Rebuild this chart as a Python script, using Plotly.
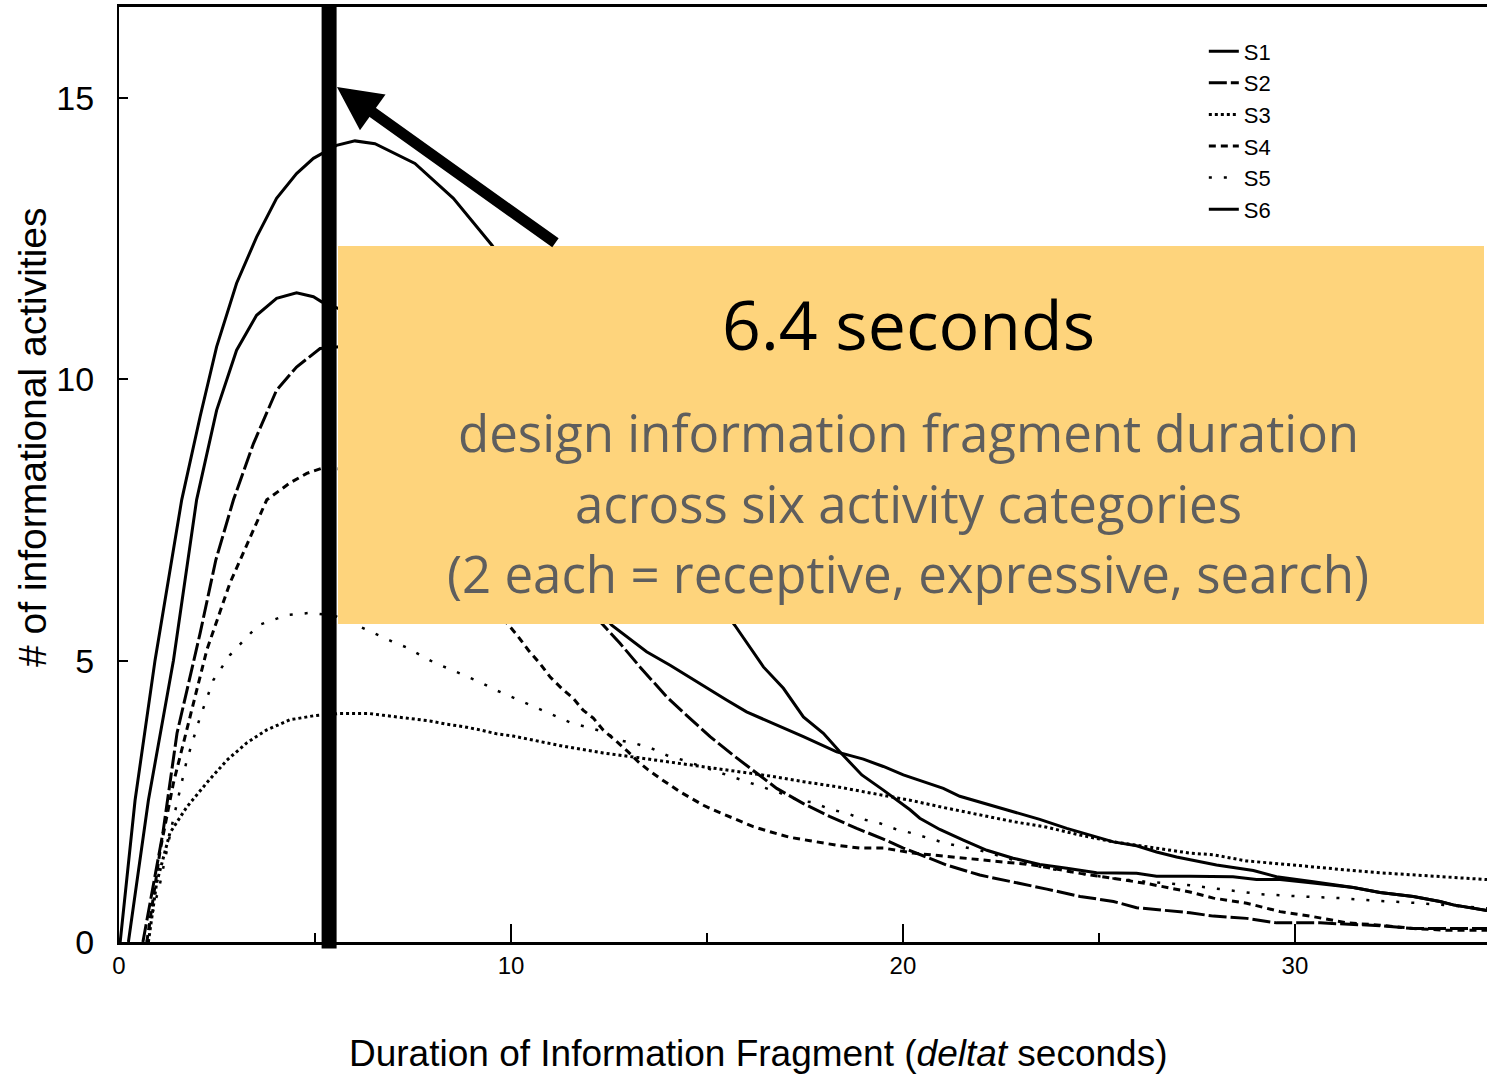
import plotly.graph_objects as go

# ---- data ----
series_names = ["S1", "S2", "S3", "S4", "S5", "S6"]

x_s1 = [0.03, 0.41, 0.92, 1.60, 2.07, 2.49, 3.00, 3.51, 4.02, 4.53, 4.96, 5.55, 6.02, 6.53, 7.55, 8.53, 9.51,
        10.5, 11.5, 12.5, 13.5, 14.5, 15.71, 16.44, 16.95, 17.46, 17.97, 18.39, 18.95, 19.50, 20.18, 20.43,
        20.94, 21.54, 22.14, 22.81, 23.49, 24.18, 24.94, 25.96, 26.47, 27.32, 28.42, 29.02, 29.62, 30.46,
        31.49, 32.17, 33.02, 33.70, 34.04, 34.90]
y_s1 = [0, 2.52, 5.01, 7.86, 9.34, 10.58, 11.71, 12.53, 13.22, 13.66, 13.93, 14.16, 14.24, 14.19, 13.84, 13.22,
        12.39, 11.4, 10.3, 9.1, 7.9, 6.8, 5.63, 4.89, 4.51, 4.00, 3.71, 3.38, 2.97, 2.70, 2.35, 2.20, 2.00,
        1.81, 1.63, 1.49, 1.38, 1.31, 1.23, 1.22, 1.17, 1.17, 1.16, 1.11, 1.11, 1.05, 0.97, 0.88, 0.81, 0.72,
        0.66, 0.56]

x_s2 = [0.61, 1.12, 1.48, 2.07, 2.47, 2.92, 3.43, 4.02, 4.53, 5.13, 6, 7, 8, 9, 10, 11, 12, 12.35, 12.78,
        13.29, 13.97, 14.48, 15.08, 15.67, 16.27, 16.78, 17.46, 18.14, 18.82, 19.50, 20.01, 20.43, 21.11,
        21.96, 22.81, 23.67, 24.52, 25.37, 25.96, 27.32, 27.92, 28.77, 29.53, 30.64, 32.17, 33.02, 34.90]
y_s2 = [0, 1.94, 3.71, 5.49, 6.79, 7.86, 8.86, 9.81, 10.22, 10.55, 10.6, 10.3, 9.7, 8.9, 8.0, 6.85, 5.9, 5.63,
        5.31, 4.89, 4.36, 4.03, 3.65, 3.32, 3.00, 2.73, 2.46, 2.23, 2.02, 1.83, 1.67, 1.55, 1.37, 1.19, 1.07,
        0.94, 0.81, 0.72, 0.61, 0.52, 0.46, 0.42, 0.34, 0.34, 0.29, 0.24, 0.24]

x_s3 = [0.75, 0.96, 1.30, 1.73, 2.24, 2.75, 3.26, 3.77, 4.36, 4.96, 5.59, 6.40, 6.74, 7.08, 7.51, 7.93, 8.36,
        8.78, 9.21, 9.64, 10.06, 10.48, 10.91, 11.33, 12.02, 12.35, 13.21, 14.06, 14.91, 15.76, 16.61, 17.46,
        18.31, 19.16, 20.18, 21.11, 21.96, 22.81, 23.67, 24.52, 25.37, 26.22, 27.32, 27.92, 28.77, 29.62,
        30.47, 31.32, 32.17, 33.02, 33.87, 34.90]
y_s3 = [0, 1.05, 1.94, 2.40, 2.83, 3.23, 3.54, 3.77, 3.95, 4.02, 4.06, 4.06, 4.03, 4.00, 3.96, 3.93, 3.87,
        3.83, 3.77, 3.70, 3.66, 3.60, 3.54, 3.48, 3.40, 3.36, 3.28, 3.20, 3.12, 3.03, 2.95, 2.85, 2.76, 2.65,
        2.52, 2.38, 2.26, 2.14, 2.04, 1.90, 1.78, 1.69, 1.58, 1.55, 1.44, 1.39, 1.33, 1.28, 1.23, 1.19, 1.16,
        1.11]

x_s4 = [0.71, 1.05, 1.39, 1.81, 2.24, 2.83, 3.77, 4.36, 4.79, 5.17, 6, 7, 8, 9, 9.93, 10.15, 10.44, 10.74,
        11.0, 11.29, 11.59, 11.84, 12.10, 12.35, 12.70, 12.99, 13.25, 13.50, 13.80, 14.06, 14.31, 14.61,
        14.91, 15.16, 15.67, 16.18, 16.61, 17.12, 17.63, 18.31, 18.90, 19.50, 20.26, 21.11, 21.96, 22.81,
        23.32, 24.52, 25.37, 26.22, 27.32, 27.92, 28.77, 29.62, 30.47, 31.32, 32.17, 33.02, 33.87, 34.90]
y_s4 = [0, 1.63, 2.83, 4.00, 5.19, 6.38, 7.86, 8.16, 8.33, 8.42, 8.4, 7.9, 7.2, 6.4, 5.63, 5.46, 5.19, 4.95,
        4.71, 4.51, 4.33, 4.12, 3.98, 3.77, 3.56, 3.38, 3.20, 3.06, 2.91, 2.79, 2.67, 2.55, 2.43, 2.35, 2.20,
        2.05, 1.96, 1.86, 1.80, 1.72, 1.67, 1.67, 1.58, 1.52, 1.47, 1.41, 1.37, 1.22, 1.13, 1.04, 0.89, 0.78,
        0.69, 0.54, 0.45, 0.34, 0.30, 0.24, 0.21, 0.21]

x_s5 = [0.71, 0.79, 1.05, 1.38, 1.73, 2.07, 2.41, 2.83, 3.55, 4.28, 4.87, 5.5, 6.19, 6.56, 6.94, 7.32, 7.68,
        8.06, 8.44, 8.83, 9.21, 9.57, 9.97, 10.36, 10.74, 11.14, 11.52, 11.93, 12.35, 12.74, 13.16, 13.59,
        13.97, 14.40, 14.82, 15.63, 16.05, 16.48, 16.86, 17.33, 17.71, 18.14, 18.56, 18.99, 19.41, 19.84,
        20.26, 21.11, 21.96, 22.81, 23.67, 24.52, 25.37, 26.22, 27.32, 28.09, 29.11, 30.13, 31.15, 32.17,
        33.19, 34.90]
y_s5 = [0, 0.34, 1.05, 2.17, 3.23, 4.00, 4.66, 5.10, 5.63, 5.81, 5.85, 5.8, 5.59, 5.47, 5.35, 5.24, 5.11,
        4.96, 4.85, 4.73, 4.62, 4.49, 4.37, 4.26, 4.14, 4.02, 3.90, 3.82, 3.74, 3.59, 3.53, 3.44, 3.32, 3.23,
        3.13, 2.94, 2.83, 2.74, 2.65, 2.52, 2.48, 2.36, 2.29, 2.18, 2.11, 2.00, 1.93, 1.75, 1.63, 1.46, 1.31,
        1.22, 1.13, 1.07, 1.01, 0.94, 0.85, 0.81, 0.78, 0.73, 0.69, 0.60]

x_s6 = [0.24, 0.75, 1.39, 1.98, 2.49, 3.00, 3.51, 4.02, 4.53, 4.96, 5.17, 6, 7, 8, 9, 10, 11, 12, 12.57, 13.46,
        14.06, 14.99, 15.50, 16.01, 16.78, 17.46, 18.31, 18.99, 19.50, 20.01, 20.52, 21.03, 21.45, 21.96,
        22.81, 23.49, 24.18, 24.85, 25.37, 25.96, 26.47, 26.98, 28.0, 28.94, 29.53, 30.47, 31.49, 32.17,
        33.02, 33.70, 34.04, 34.90]
y_s6 = [0, 2.52, 5.01, 7.86, 9.45, 10.52, 11.14, 11.44, 11.54, 11.47, 11.38, 11.15, 10.55, 9.75, 8.85, 7.9,
        7.0, 6.1, 5.63, 5.16, 4.92, 4.51, 4.30, 4.09, 3.86, 3.65, 3.38, 3.25, 3.12, 2.97, 2.85, 2.73, 2.59,
        2.49, 2.32, 2.18, 2.02, 1.88, 1.78, 1.71, 1.60, 1.51, 1.37, 1.27, 1.16, 1.07, 0.97, 0.88, 0.81, 0.72,
        0.66, 0.56]

x_ticks_major = [0, 10, 20, 30]
x_ticks_minor = [5, 15, 25]
y_tick_labels = [0, 5, 10, 15]
y_ticks_long = [0, 10]

marker_x = 5.36          # vertical highlight line
arrow_tip = (5.56, 15.2)

title_text = "6.4 seconds"
sub_lines = ["design information fragment duration",
             "across six activity categories",
             "(2 each = receptive, expressive, search)"]

# ---- styling ----
xs = [x_s1, x_s2, x_s3, x_s4, x_s5, x_s6]
ys = [y_s1, y_s2, y_s3, y_s4, y_s5, y_s6]
dashes = ["solid", "18px,4px", "3px,3px", "7px,5px", "3px,12px", "solid"]
widths = [3, 3, 3, 3, 2.5, 3]

fig = go.Figure()
for name, xv, yv, d, w in zip(series_names, xs, ys, dashes, widths):
    fig.add_trace(go.Scatter(x=xv, y=yv, mode="lines", name=name,
                             line=dict(color="black", width=w, dash=d)))

AX = "Liberation Sans, Arial, sans-serif"
W, H = 1487, 1076
L, R, T, B = 119, 0, 7, 134

fig.update_layout(
    width=W, height=H,
    margin=dict(l=L, r=R, t=T, b=B),
    paper_bgcolor="white", plot_bgcolor="white",
    showlegend=True,
    legend=dict(x=0.793, y=0.975, xanchor="left", yanchor="top",
                font=dict(family=AX, size=22, color="black"),
                bgcolor="rgba(0,0,0,0)", itemwidth=30, tracegroupgap=0),
    xaxis=dict(range=[0, 34.90], showgrid=False, zeroline=False,
               showline=True, linecolor="black", linewidth=3, mirror=True,
               tickmode="array", tickvals=x_ticks_major, ticks="inside", ticklen=18,
               tickwidth=2, tickcolor="black", ticklabelstandoff=0,
               tickfont=dict(family=AX, size=24, color="black"),
               minor=dict(tickmode="array", tickvals=x_ticks_minor, ticks="inside",
                          ticklen=9, tickwidth=2, tickcolor="black")),
    yaxis=dict(range=[0, 16.62], showgrid=False, zeroline=False,
               showline=True, linecolor="black", linewidth=2,
               tickmode="array", tickvals=y_tick_labels, ticks="inside", ticklen=9,
               tickwidth=2, tickcolor="black", ticklabelstandoff=16,
               tickfont=dict(family=AX, size=34, color="black")),
    yaxis2=dict(range=[0, 16.62], overlaying="y", side="left", anchor="x",
                showgrid=False, zeroline=False, showline=False,
                tickmode="array", tickvals=y_ticks_long, ticks="inside", ticklen=18,
                tickwidth=2, tickcolor="black", showticklabels=False),
)

def px_x(p):
    return (p - L) / (W - L - R)

def px_y(p):
    return (H - B - p) / (H - T - B)

shapes = [
    # thick vertical highlight line
    dict(type="line", xref="x", yref="paper", x0=marker_x, x1=marker_x, y0=-0.007, y1=1,
         line=dict(color="black", width=15), layer="above"),
    # orange call-out box
    dict(type="rect", xref="paper", yref="paper", x0=px_x(338), x1=px_x(1484),
         y0=px_y(624), y1=px_y(246), fillcolor="#FED47C", line=dict(width=0), layer="above"),
]
fig.update_layout(shapes=shapes)

annotations = [
    # arrow pointing to the highlight line
    dict(x=arrow_tip[0], y=arrow_tip[1], xref="x", yref="y", text="", showarrow=True,
         ax=220, ay=157, axref="pixel", ayref="pixel", arrowhead=2, arrowsize=0.8,
         arrowwidth=11, arrowcolor="black", standoff=0),
    dict(x=px_x(908), y=px_y(323), xref="paper", yref="paper", text=title_text, showarrow=False,
         xanchor="center", yanchor="middle",
         font=dict(family="Open Sans, Lato, sans-serif", size=68, color="black")),
    # axis titles
    dict(x=px_x(758), y=px_y(1053), xref="paper", yref="paper",
         text="Duration of Information Fragment (<i>deltat</i> seconds)", showarrow=False,
         xanchor="center", yanchor="middle", font=dict(family=AX, size=37, color="black")),
    dict(x=px_x(33), y=px_y(437), xref="paper", yref="paper",
         text="# of informational activities", showarrow=False, textangle=-90,
         xanchor="center", yanchor="middle", font=dict(family=AX, size=39, color="black")),
]
for line_text, yc in zip(sub_lines, [432, 503, 573]):
    annotations.append(dict(x=px_x(908), y=px_y(yc), xref="paper", yref="paper", text=line_text,
                            showarrow=False, xanchor="center", yanchor="middle",
                            font=dict(family="Open Sans, Lato, sans-serif", size=51, color="#5E5E5E")))
fig.update_layout(annotations=annotations)

fig.write_html("out.html", config={"displayModeBar": False},
               post_script="document.body.style.margin='0';document.body.style.overflow='hidden';")
